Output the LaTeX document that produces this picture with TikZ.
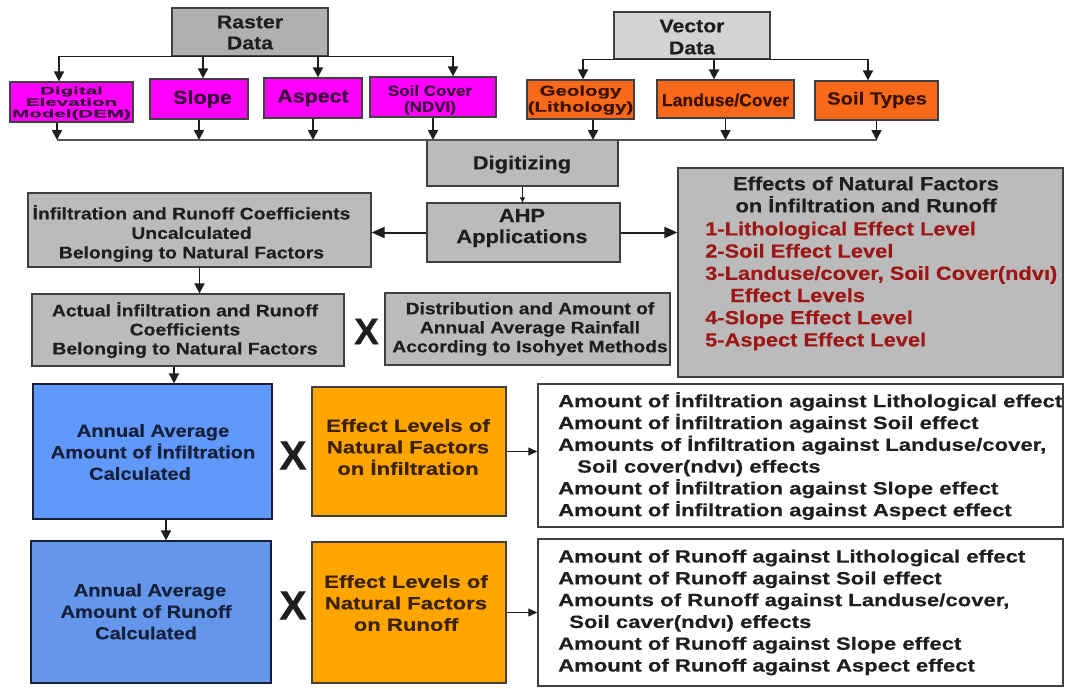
\documentclass[tikz,border=0pt]{standalone}
\usepackage{fontspec}
\setmainfont{Liberation Sans}[FakeStretch=1.15,FakeBold=0.3]
\newfontfamily\fW{Liberation Sans}[FakeStretch=1.25,FakeBold=0.3]
\newfontfamily\fN{Liberation Sans}[FakeBold=0.3]
\newfontfamily\fG{Liberation Sans}[FakeStretch=1.43,FakeBold=0.3]
\newfontfamily\fD{Liberation Sans}[FakeStretch=1.9,FakeBold=0.3]
\usetikzlibrary{arrows.meta,calc}
\definecolor{gA}{HTML}{B0B0B0}
\definecolor{gV}{HTML}{D3D3D3}
\definecolor{gB}{HTML}{BBBBBB}
\definecolor{mag}{HTML}{FF00FF}
\definecolor{orT}{HTML}{F9691A}
\definecolor{orM}{HTML}{FFA500}
\definecolor{blA}{HTML}{6199FA}
\definecolor{blB}{HTML}{6496EC}
\definecolor{redT}{HTML}{9E1515}
\definecolor{ink}{HTML}{1E1E1E}
\definecolor{edge}{HTML}{404040}
\definecolor{busc}{HTML}{555555}
\definecolor{magT}{HTML}{3A003A}
\definecolor{orTT}{HTML}{3A1200}
\definecolor{orMT}{HTML}{3A2200}
\definecolor{blT}{HTML}{16203A}
\newcommand\fs[2]{\fontsize{#1}{#2}\selectfont\bfseries}
\newcommand\bx[6]{\node[box,#6,minimum width={(#4)-(#2)},minimum height={(#5)-(#3)}] (#1) at ({((#2)+(#4))/2},{((#3)+(#5))/2}) {};}
\begin{document}
\begin{tikzpicture}[x=1pt,y=-1pt,
 box/.style={draw=edge,line width=1.2pt,inner sep=0pt,rectangle},
 txt/.style={inner sep=0pt,align=center,text=ink},
 arr/.style={draw=ink,line width=1.7pt,-{Triangle[length=10pt,width=10pt]}},
 arrB/.style={draw=ink,line width=2pt,-{Triangle[length=13pt,width=11pt]}},
 arrS/.style={draw=ink,line width=0.9pt,-{Triangle[length=5pt,width=5pt]}},
 arrM/.style={draw=ink,line width=1.3pt,-{Triangle[length=9pt,width=8pt]}},
 bus/.style={draw=busc,line width=1.1pt}]
\fill[white] (0,0) rectangle (1065,688);
\useasboundingbox (0,0) rectangle (1065,688);

% ---------- boxes ----------
\bx{raster}{172}{8}{328}{56}{fill=gA}
\bx{vector}{614}{12}{770}{59}{fill=gV}
\bx{dem}{10}{82}{133}{122}{fill=mag}
\bx{slope}{150}{79}{248}{119}{fill=mag}
\bx{aspect}{264}{78}{362}{118}{fill=mag}
\bx{soilcov}{370}{77}{496}{117}{fill=mag}
\bx{geol}{527}{80}{634}{119}{fill=orT}
\bx{landuse}{657}{80}{794}{118}{fill=orT}
\bx{soiltypes}{815}{81}{938}{120}{fill=orT}
\bx{digit}{427}{140}{618}{186}{fill=gB}
\bx{ahp}{427}{203}{620}{262}{fill=gB}
\bx{infil}{28}{193}{371}{267}{fill=gB}
\bx{actual}{32}{294}{344}{366}{fill=gB}
\bx{distr}{385}{293}{670}{365}{fill=gB}
\bx{effects}{678}{168}{1063}{377}{fill=gB}
\bx{blueA}{33}{384}{272}{519}{fill=blA,draw=blT}
\bx{blueB}{31}{541}{271}{683}{fill=blB,draw=blT}
\bx{orA}{312}{387}{506}{516}{fill=orM}
\bx{orB}{312}{542}{506}{683}{fill=orM}
\bx{listA}{538}{384}{1063}{527}{fill=white,line width=1.5pt}
\bx{listB}{538}{539}{1063}{686}{fill=white,line width=1.5pt}

% ---------- texts ----------
\node[txt,font=\fs{18.5}{21}] (rasterT) at (250,32.5) {Raster\\Data};
\node[txt,font=\fs{18.5}{22}] (vectorT) at (692,37) {Vector\\Data};
\node[txt,text=magT,font=\fD\fs{10.8}{11.5}] (demT) at (71.5,103) {Digital\\Elevation\\Model(DEM)};
\node[txt,text=magT,font=\fs{18.8}{21}] (slopeT) at (202.5,99) {Slope};
\node[txt,text=magT,font=\fs{18.6}{21}] (aspectT) at (313,98) {Aspect};
\node[txt,text=magT,font=\fs{14.8}{16}] (soilcovT) at (430,100) {Soil Cover\\(NDVI)};
\node[txt,text=orTT,font=\fG\fs{14.3}{16}] (geolT) at (580.5,100) {Geology\\(Lithology)};
\node[txt,text=orTT,font=\fN\fs{17.6}{20}] (landuseT) at (725.5,100) {Landuse/Cover};
\node[txt,text=orTT,font=\fs{17.6}{20}] (soiltypesT) at (877,100) {Soil Types};
\node[txt,font=\fs{19}{21}] (digitT) at (522,164.5) {Digitizing};
\node[txt,font=\fs{19}{21}] (ahpT) at (522,228) {AHP\\Applications};
\node[txt,font=\fs{16.8}{19.5}] (infilT) at (191.5,233.5) {İnfiltration and Runoff Coefficients\\Uncalculated\\Belonging to Natural Factors};
\node[txt,font=\fs{16.8}{19}] (actualT) at (185,330) {Actual İnfiltration and Runoff\\Coefficients\\Belonging to Natural Factors};
\node[txt,font=\fs{16.7}{19}] (distrT) at (530,329) {Distribution and Amount of\\Annual Average Rainfall\\According to Isohyet Methods};
\node[txt,font=\fs{19}{22}] (effHead) at (866,194.5) {Effects of Natural Factors\\on İnfiltration and Runoff};
\node[txt,align=left,anchor=west,text=redT,font=\fs{19}{22.2}] (effList) at (705,286) {1-Lithological Effect Level\\2-Soil Effect Level\\3-Landuse/cover, Soil Cover(ndvı)\\\hspace*{25pt}Effect Levels\\4-Slope Effect Level\\5-Aspect Effect Level};
\node[txt,text=blT,font=\fs{17.5}{21.5}] (blueAT) at (153,452) {Annual Average\\Amount of İnfiltration\\\hspace*{-26pt}Calculated};
\node[txt,text=blT,font=\fs{17.5}{21.5}] (blueBT) at (146,611.5) {\hspace*{8pt}Annual Average\\Amount of Runoff\\Calculated};
\node[txt,text=orMT,font=\fW\fs{17.7}{21.5}] (orAT) at (408,447) {Effect Levels of\\Natural Factors\\on İnfiltration};
\node[txt,text=orMT,font=\fW\fs{17.7}{21.5}] (orBT) at (406,603) {Effect Levels of\\Natural Factors\\on Runoff};
\node[txt,align=left,anchor=west,font=\fW\fs{17.7}{21.8}] (listAT) at (558,456) {Amount of İnfiltration against Lithological effect\\Amount of İnfiltration against Soil effect\\Amounts of İnfiltration against Landuse/cover,\\\hspace*{19pt}Soil cover(ndvı) effects\\Amount of İnfiltration against Slope effect\\Amount of İnfiltration against Aspect effect};
\node[txt,align=left,anchor=west,font=\fW\fs{17.7}{21.8}] (listBT) at (558,612.5) {Amount of Runoff against Lithological effect\\Amount of Runoff against Soil effect\\Amounts of Runoff against Landuse/cover,\\\hspace*{11pt}Soil caver(ndvı) effects\\Amount of Runoff against Slope effect\\Amount of Runoff against Aspect effect};
\node[txt,font=\fN\fs{37}{40}] (xA) at (366.5,331.5) {X};
\node[txt,font=\fN\fs{41}{44}] (xB) at (293,455.5) {X};
\node[txt,font=\fN\fs{41}{44}] (xC) at (293,605.5) {X};

% ---------- connectors ----------
\draw[arr] (raster.south) -| ([xshift=-12.5pt]dem.north);
\draw[arr] (raster.south) -| ([xshift=4pt]slope.north);
\draw[arr] (raster.south) -| ([xshift=5pt]aspect.north);
\draw[arr] (raster.south) -| ([xshift=20pt]soilcov.north);
\draw[arr] (vector.south) -| ([xshift=2.5pt]geol.north);
\draw[arr] (vector.south) -| ([xshift=-11.5pt]landuse.north);
\draw[arr] (vector.south) -| ([xshift=-8.5pt]soiltypes.north);

\coordinate (busL) at (57,140);
\coordinate (busR) at (877,140);
\draw[bus] (busL) -- (busR);
\draw[arr] ([xshift=-14.5pt]dem.south) -- ([xshift=-14.5pt]dem.south |- busL);
\draw[arr] (slope.south) -- (slope.south |- busL);
\draw[arr] (aspect.south) -- (aspect.south |- busL);
\draw[arr] (soilcov.south) -- (soilcov.south |- busL);
\draw[arr] ([xshift=12.5pt]geol.south) -- ([xshift=12.5pt]geol.south |- busL);
\draw[arr] (landuse.south) -- (landuse.south |- busL);
\draw[arr] (soiltypes.south) -- (soiltypes.south |- busL);

\draw[arrS] (digit.south) -- (digit.south |- ahp.north);
\draw[arrB] (ahp.west) -- (ahp.west -| infil.east);
\draw[arrB] (ahp.east) -- (ahp.east -| effects.west);
\draw[arr] (infil.south) -- (infil.south |- actual.north);
\draw[arr] ([xshift=-14pt]actual.south) -- ([xshift=-14pt]actual.south |- blueA.north);
\draw[arr] ([xshift=13.5pt]blueA.south) -- ([xshift=13.5pt]blueA.south |- blueB.north);
\draw[arrM] (orA.east) -- (orA.east -| listA.west);
\draw[arrM] (orB.east) -- (orB.east -| listB.west);
\end{tikzpicture}
\end{document}
